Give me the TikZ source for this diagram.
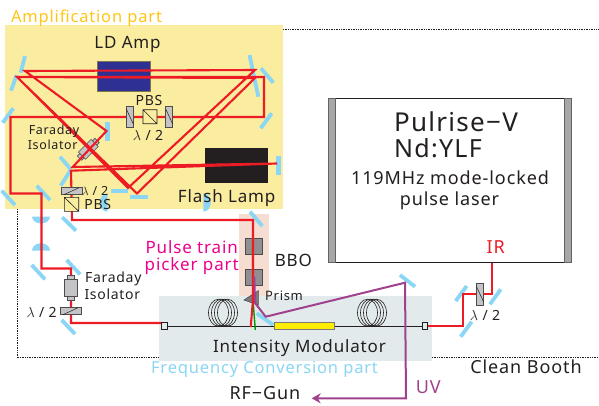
\documentclass[tikz,border=0pt]{standalone}
\usepackage{fontspec}
\setmainfont[LetterSpace=5]{Noto Sans}
\usepackage{tikz}
\usetikzlibrary{arrows.meta}
\definecolor{ampyellow}{HTML}{FAEDA0}
\definecolor{amporange}{HTML}{FFC515}
\definecolor{ampblue}{HTML}{2E3192}
\definecolor{mirrorblue}{HTML}{8AD6F4}
\definecolor{beamred}{HTML}{ED1C24}
\definecolor{uvpurple}{HTML}{A0418D}
\definecolor{pickerpink}{HTML}{EC008C}
\definecolor{pickerbg}{HTML}{F6DDD2}
\definecolor{convbg}{HTML}{E3EAEC}
\definecolor{partgray}{HTML}{C4C4C6}
\definecolor{textgray}{HTML}{231F20}
\tikzset{
  mirror/.style={mirrorblue, line width=3.8pt},
  lensshape/.style={fill=mirrorblue, draw=none},
  beam/.style={beamred, line width=2.1pt, line join=miter},
  uvbeam/.style={uvpurple, line width=2pt},
  optic/.style={draw=textgray!80, fill=partgray, line width=0.6pt},
  label/.style={text=textgray, inner sep=0pt, font=\fontsize{12.5}{13}\selectfont},
  coil/.style={textgray, line width=0.6pt}
}
\begin{document}
\begin{tikzpicture}[x=1pt, y=-1pt]
        \useasboundingbox (0,0) rectangle (599,405);
        % backgrounds
        \fill [ampyellow] (5,25) rectangle (283,209);
        \fill [pickerbg] (239,214) rectangle (269,300);
        \fill [convbg] (159,296) rectangle (432,361);
        % clean booth
        \draw [densely dotted, textgray, line width=0.7pt] (283,29) -- (599,29);
        \draw [densely dotted, textgray, line width=0.7pt] (17,209) -- (17,357.3) -- (159,357.3);
        \draw [densely dotted, textgray, line width=0.7pt] (432,357.3) -- (599,357.3);
        % amplifier blocks
        \draw [fill=ampblue, draw=ampyellow!50!black] (97,61) rectangle (150,91);
        \fill [fill=textgray] (205,148) rectangle (268,183);
        % mirrors
        \foreach \xa/\ya/\xb/\yb in {25/56/20.7/72.7, 16.7/75/11/90.7, 13.3/108.3/2.7/122.7, 249.5/55/258.3/96.7,
            261/68.3/273.3/82.7, 271.7/113.3/260.7/128.3, 60/156.7/70.7/169.3, 70.7/170/60.7/185.7,
            111/190.7/128.3/190.7, 130/197.3/148.3/197.3, 1.7/190.7/15/205, 36.7/185.7/50/200,
            62.3/217.3/76/230.7, 250/211.7/262.3/226, 31.7/265/45/279.3, 66.7/260/80/274.3,
            61.7/320/75/334, 256.7/313.3/273.3/325, 400/275/415/286.7, 466.7/286/455.7/301,
            500.7/289.3/490/304.3, 471.7/321.7/460.7/336.7}
            \draw [mirror] (\xa,\ya) -- (\xb,\yb);
        \draw [mirror, line width=4.8pt] (107.3,122.3) -- (107.3,140.7);
        \draw [mirror, line width=4.8pt] (278.3,156) -- (278.3,175);
        % lenses
        \fill [lensshape] (32,216.5) arc [start angle=180, end angle=0, x radius=9, y radius=7] -- cycle;
        \fill [lensshape] (32,250.7) arc [start angle=180, end angle=360, x radius=9, y radius=7.5] -- cycle;
        \fill [lensshape] (107.4,211.7) arc [start angle=90, end angle=270, x radius=7.5, y radius=9.2] -- cycle;
        \fill [lensshape] (203.3,211.7) arc [start angle=90, end angle=-90, x radius=7.5, y radius=9.2] -- cycle;
        % fiber
        \draw [textgray, line width=0.7pt] (167,326) -- (422,326);
        \foreach \cx in {223, 372}
            \foreach \dx in {-4.5,-1.5,1.5,4.5}
                \draw [coil] (\cx+\dx,312.7) ellipse [x radius=10, y radius=13.5];
        \draw [fill=yellow!95!orange, draw=textgray!60] (274.3,322.3) rectangle (334.3,329.3);
        % crystals
        \draw [optic, fill=textgray!50] (245.5,238.5) rectangle (262.5,254);
        \draw [optic, fill=textgray!50] (245.5,269.3) rectangle (262.5,285);
        \draw [optic, fill=textgray!60] (244,300) -- (258.3,290.7) -- (258.3,305) -- cycle;
        % upper faraday isolator
        \begin{scope}[shift={(88.3,149.3)}, rotate=45]
            \draw [optic] (-9,-5) rectangle (9,5);
            \draw [optic] (-12.5,-3) rectangle (-9,3);
            \draw [optic] (9,-3) rectangle (12.5,3);
        \end{scope}
        % green beam
        \draw [green!60!black, line width=1.4pt] (252.5,246) -- (253,300) -- (255.3,330);
        % red beams
        \draw [beam] (161.5,323) -- (71,323) -- (71,268.5) -- (41.5,268.5) -- (41.5,193.5) -- (10.5,193.5) -- (10.5,117)
            -- (264,117) -- (264,77) -- (17,77) -- (137,193.5) -- (255,78) -- (17,77) -- (128,188) -- (255,70) -- (25,71)
            -- (106.5,131) -- (72.7,167) -- (277,163.5) -- (71,170.7) -- (72,220) -- (253,220) -- (253,300) -- (250.7,327);
        \draw [beam] (491.7,262) -- (491.7,294.3) -- (463.3,294.3) -- (463.3,326) -- (427.7,326);
        % uv beam
        \draw [uvbeam, -{Stealth[length=9pt, width=10pt]}] (254.3,276.7) -- (255,303) -- (265.7,316.7) -- (405,282.7)
            -- (406,398.3) -- (311.7,398.3);
        % fiber ends
        \draw [draw=textgray, fill=convbg, line width=0.6pt] (161.5,322) rectangle (167,329);
        \draw [draw=textgray, fill=convbg, line width=0.6pt] (422,322) rectangle (427,329);
        % wave plates and cubes
        \foreach \xa/\ya/\xb/\yb in {126.3/106/133.3/127, 165.7/106/172.7/127, 476.3/283.3/483.7/305} {
            \draw [optic] (\xa,\ya) rectangle (\xb,\yb);
            \draw [textgray, line width=0.5pt] (\xa,\ya+3) -- (\xb,\yb-3);
        }
        \foreach \xa/\ya/\xb/\yb in {61/187.7/82/194.7, 60/307.7/81/314.7} {
            \draw [optic] (\xa,\ya) rectangle (\xb,\yb);
            \draw [textgray, line width=0.5pt] (\xa+3,\yb) -- (\xb-3,\ya);
        }
        \draw [textgray, line width=0.6pt, fill=ampyellow] (143,109.7) rectangle (157,123.7) (143,109.7) -- (157,123.7);
        \draw [textgray, line width=0.6pt, fill=ampyellow] (64.3,197.3) rectangle (78.7,211.3) (64.3,197.3) -- (78.7,211.3);
        % lower faraday isolator
        \draw [optic] (64.7,279.3) rectangle (77,296.7);
        \draw [optic] (67.7,275.3) rectangle (74,279.3);
        \draw [optic] (67.7,296.7) rectangle (74,300.7);
        % laser
        \draw [fill=white, draw=textgray, line width=0.9pt] (328,98) rectangle (571.5,262);
        \draw [fill=partgray!85!black, draw=textgray!70, line width=0.5pt] (328,98) rectangle (335,262);
        \draw [fill=partgray!85!black, draw=textgray!70, line width=0.5pt] (564,98) rectangle (571.5,262);
        % labels
        \node [label, text=amporange, font=\fontsize{16.5}{17}\selectfont] (amppart) at (86.5,18) {Amplification part};
        \node [label, font=\fontsize{17}{18}\selectfont] (ldamp) at (127.5,44) {LD Amp};
        \node [label, font=\fontsize{17}{18}\selectfont] (flashlamp) at (226.7,198.5) {Flash Lamp};
        \node [label, font=\fontsize{14}{15}\selectfont] (pbsa) at (149,100) {PBS};
        \node [label, font=\fontsize{14}{15}\selectfont] (lama) at (148,135.7) {$\lambda$ / 2};
        \node [label, font=\fontsize{14}{15}\selectfont] (pbsb) at (97.7,204) {PBS};
        \node [label] (lamb) at (95,190.7) {$\lambda$ / 2};
        \node [label] (faradaya) at (54,131.5) {Faraday};
        \node [label] (isolatora) at (52.7,145.3) {Isolator};
        \node [label, font=\fontsize{14}{15}\selectfont] (faradayb) at (113.3,279) {Faraday};
        \node [label, font=\fontsize{14}{15}\selectfont] (isolatorb) at (112.3,294) {Isolator};
        \node [label, font=\fontsize{14}{15}\selectfont] (lamc) at (41.7,312.7) {$\lambda$ / 2};
        \node [label, font=\fontsize{14}{15}\selectfont] (lamd) at (485,315) {$\lambda$ / 2};
        \node [label, text=pickerpink, font=\fontsize{17}{18}\selectfont] (picka) at (191.7,246.7) {Pulse train};
        \node [label, text=pickerpink, font=\fontsize{17}{18}\selectfont] (pickb) at (191.7,266.5) {picker part};
        \node [label, font=\fontsize{17}{18}\selectfont] (bbo) at (293.3,260) {BBO};
        \node [label, font=\fontsize{13}{14}\selectfont] (prism) at (284,295.7) {Prism};
        \node [label, font=\fontsize{17}{18}\selectfont] (modulator) at (299.5,348) {Intensity Modulator};
        \node [label, text=mirrorblue, font=\fontsize{16.5}{17}\selectfont] (convpart) at (264.5,369.5) {Frequency Conversion part};
        \node [label, font=\fontsize{18}{19}\selectfont] (booth) at (526,366.7) {Clean Booth};
        \node [label, font=\fontsize{18}{19}\selectfont] (rfgun) at (265,393.5) {RF−Gun};
        \node [label, text=uvpurple, font=\fontsize{18}{19}\selectfont] (uvlabel) at (428.3,386.7) {UV};
        \node [label, text=beamred, font=\fontsize{18}{19}\selectfont] (irlabel) at (495.7,246.7) {IR};
        \node [label, font=\fontsize{26}{28}\selectfont] (pulrise) at (456,121.7) {Pulrise−{\rmfamily V}};
        \node [label, font=\fontsize{25}{26}\selectfont] (ndylf) at (438,148) {Nd:YLF};
        \node [label, font=\fontsize{18}{19}\selectfont] (mode) at (450,178) {119MHz mode-locked};
        \node [label, font=\fontsize{18}{19}\selectfont] (pulselaser) at (449.5,200.5) {pulse laser};
\end{tikzpicture}
\end{document}
